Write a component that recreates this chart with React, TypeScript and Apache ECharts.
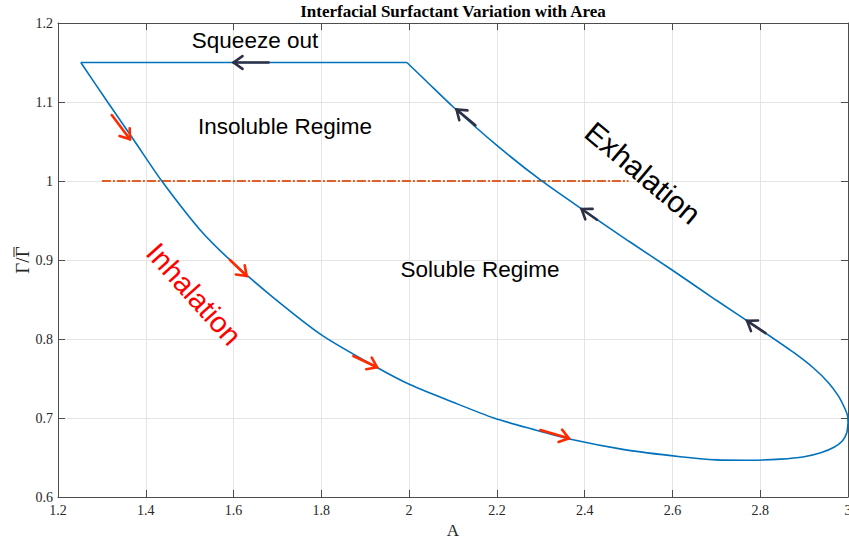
import React, { useEffect, useRef } from "react";
import * as echarts from "echarts";

// ---- data ----
const inhalationA = [1.252, 1.313, 1.375, 1.4365, 1.524, 1.592, 1.683, 1.801, 1.927, 2.003, 2.1, 2.193, 2.28, 2.368, 2.49, 2.618, 2.7, 2.77, 2.847, 2.9, 2.938, 2.968, 2.987, 2.997, 3.0];
const inhalationG = [1.15, 1.1, 1.05, 1.0, 0.938, 0.9, 0.856, 0.805, 0.764, 0.742, 0.72, 0.7, 0.686, 0.673, 0.66, 0.651, 0.647, 0.6465, 0.648, 0.651, 0.656, 0.663, 0.671, 0.681, 0.694];
const exhalationA = [3.0, 2.999, 2.992, 2.978, 2.955, 2.922, 2.876, 2.8, 2.7, 2.6, 2.5, 2.4, 2.3, 2.2, 2.1, 2.04, 1.995];
const exhalationG = [0.694, 0.703, 0.713, 0.728, 0.745, 0.763, 0.783, 0.812, 0.849, 0.887, 0.924, 0.962, 1.001, 1.045, 1.094, 1.126, 1.15];
const squeezeA = [1.995, 1.252];
const squeezeG = [1.15, 1.15];
const refA = [1.3, 2.5];
const refG = [1.0, 1.0];
// arrows: [A start, Γ start, A end, Γ end]
const inhalationArrows = [
  [1.3225, 1.0835, 1.364, 1.0528],
  [1.592, 0.9, 1.63, 0.8797],
  [1.873, 0.7785, 1.927, 0.7642],
  [2.299, 0.6848, 2.364, 0.6743],
];
const exhalationArrows = [
  [1.68, 1.15, 1.6, 1.15],
  [2.151, 1.0705, 2.108, 1.0905],
  [2.428, 0.951, 2.393, 0.9645],
  [2.812, 0.8075, 2.77, 0.823],
];
const xTicks = { min: 1.2, max: 3, interval: 0.2 };
const yTicks = { min: 0.6, max: 1.2, interval: 0.1 };

const zip = (a: number[], b: number[]) => a.map((v, i) => [v, b[i]]);

function arrowRenderer(color: string) {
  return (params: any, api: any) => {
    const p1 = api.coord([api.value(0), api.value(1)]);
    const p2 = api.coord([api.value(2), api.value(3)]);
    const ang = Math.atan2(p2[1] - p1[1], p2[0] - p1[0]);
    const L = 11;
    const a = 0.62;
    const h1 = [p2[0] - L * Math.cos(ang - a), p2[1] - L * Math.sin(ang - a)];
    const h2 = [p2[0] - L * Math.cos(ang + a), p2[1] - L * Math.sin(ang + a)];
    return {
      type: "group",
      children: [
        { type: "line", shape: { x1: p1[0], y1: p1[1], x2: p2[0], y2: p2[1] }, style: { stroke: color, lineWidth: 2.6, lineCap: "round" } },
        { type: "polyline", shape: { points: [h1, p2, h2] }, style: { stroke: color, lineWidth: 2.6, fill: null, lineCap: "round", lineJoin: "miter" } },
      ],
    };
  };
}

const serif = "'Liberation Serif', 'Times New Roman', serif";
const sans = "'Liberation Sans', Arial, sans-serif";
const axisColor = "#4d4d4d";
const labelColor = "#262626";
const gridColor = "#e4e4e4";

export default function App() {
  const ref = useRef<HTMLDivElement>(null);
  useEffect(() => {
    if (!ref.current) return;
    const chart = echarts.init(ref.current, null, { renderer: "svg" });
    const baseX = {
      type: "value",
      min: xTicks.min,
      max: xTicks.max,
      interval: xTicks.interval,
      axisLine: { show: true, onZero: false, lineStyle: { color: axisColor, width: 1 } },
      axisTick: { show: true, inside: true, length: 7, lineStyle: { color: axisColor } },
    };
    const baseY = {
      type: "value",
      min: yTicks.min,
      max: yTicks.max,
      interval: yTicks.interval,
      axisLine: { show: true, onZero: false, lineStyle: { color: axisColor, width: 1 } },
      axisTick: { show: true, inside: true, length: 7, lineStyle: { color: axisColor } },
    };
    const blue = { color: "#0072BD", width: 1.6 };
    chart.setOption({
      animation: false,
      backgroundColor: "#ffffff",
      grid: { left: 58, right: 1, top: 23, bottom: 42, containLabel: false, outerBoundsMode: "none" },
      xAxis: [
        {
          ...baseX,
          position: "bottom",
          name: "A",
          nameLocation: "middle",
          nameGap: 24,
          nameTextStyle: { fontFamily: serif, fontSize: 17, color: labelColor, verticalAlign: "top" },
          axisLabel: { fontFamily: serif, fontSize: 14, color: labelColor, margin: 6 },
          splitLine: { show: true, lineStyle: { color: gridColor, width: 1 } },
        },
        { ...baseX, position: "top", axisLabel: { show: false }, splitLine: { show: false } },
      ],
      yAxis: [
        {
          ...baseY,
          position: "left",
          axisLabel: { fontFamily: serif, fontSize: 14, color: labelColor, margin: 5 },
          splitLine: { show: true, lineStyle: { color: gridColor, width: 1 } },
        },
        { ...baseY, position: "right", axisLabel: { show: false }, splitLine: { show: false } },
      ],
      series: [
        {
          type: "line",
          data: zip(refA, refG),
          showSymbol: false,
          symbol: "none",
          lineStyle: { color: "#DE5F28", width: 2, type: [9, 2, 2, 2] },
          z: 2,
        },
        {
          type: "line",
          data: zip(inhalationA, inhalationG),
          showSymbol: false,
          symbol: "none",
          smooth: 0.25,
          lineStyle: blue,
          z: 3,
        },
        {
          type: "line",
          data: zip(exhalationA, exhalationG),
          showSymbol: false,
          symbol: "none",
          smooth: 0.25,
          lineStyle: blue,
          z: 3,
        },
        {
          type: "line",
          data: zip(squeezeA, squeezeG),
          showSymbol: false,
          symbol: "none",
          lineStyle: blue,
          z: 3,
        },
        {
          type: "custom",
          data: inhalationArrows,
          encode: { x: [0, 2], y: [1, 3] },
          renderItem: arrowRenderer("#FF2A00"),
          z: 5,
          clip: false,
        },
        {
          type: "custom",
          data: exhalationArrows,
          encode: { x: [0, 2], y: [1, 3] },
          renderItem: arrowRenderer("#2C3145"),
          z: 5,
          clip: false,
        },
      ],
      graphic: [
        { type: "text", x: 453, y: 11, style: { text: "Interfacial Surfactant Variation with Area", fontFamily: serif, fontWeight: "bold", fontSize: 17, fill: "#000", align: "center", verticalAlign: "middle" }, z: 10 },
        {
          type: "group",
          x: 22,
          y: 260,
          rotation: Math.PI / 2,
          children: [
            { type: "text", x: 0, y: 0, style: { text: "Γ/Γ", fontFamily: serif, fontSize: 19, fill: labelColor, align: "center", verticalAlign: "middle" } },
            { type: "line", shape: { x1: 3, y1: -8, x2: 13, y2: -8 }, style: { stroke: labelColor, lineWidth: 1 } },
          ],
          z: 10,
        },
        { type: "text", x: 255, y: 40, style: { text: "Squeeze out", fontFamily: sans, fontSize: 22.5, fill: "#000", align: "center", verticalAlign: "middle" }, z: 10 },
        { type: "text", x: 285, y: 126, style: { text: "Insoluble Regime", fontFamily: sans, fontSize: 22.5, fill: "#000", align: "center", verticalAlign: "middle" }, z: 10 },
        { type: "text", x: 480, y: 269, style: { text: "Soluble Regime", fontFamily: sans, fontSize: 22.5, fill: "#000", align: "center", verticalAlign: "middle" }, z: 10 },
        { type: "text", x: 643, y: 173, rotation: (-40 * Math.PI) / 180, style: { text: "Exhalation", fontFamily: sans, fontSize: 30, fill: "#000", align: "center", verticalAlign: "middle" }, z: 10 },
        { type: "text", x: 194, y: 294, rotation: (-48 * Math.PI) / 180, style: { text: "Inhalation", fontFamily: sans, fontSize: 29, fill: "#FF0000", align: "center", verticalAlign: "middle" }, z: 10 },
      ],
    });
    return () => chart.dispose();
  }, []);
  return <div ref={ref} style={{ position: "fixed", left: 0, top: 0, width: 849, height: 539 }} />;
}
